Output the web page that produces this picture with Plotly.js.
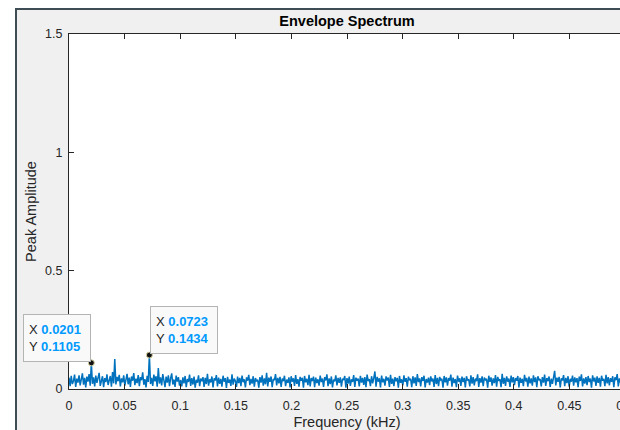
<!DOCTYPE html>
<html>
<head>
<meta charset="utf-8">
<script src="https://cdn.plot.ly/plotly-3.0.1.min.js"></script>
<style>
  html, body { margin: 0; padding: 0; background: #ffffff; overflow: hidden; width: 620px; height: 430px; }
  #frame { position: absolute; left: 15px; top: 8px; border-left: 2px solid #3e4c56; border-top: 2px solid #3e4c56; background: #f0f0f0; width: 640px; height: 440px; }
  #chart { position: absolute; left: 0; top: 0; }
</style>
</head>
<body>
<div id="frame"><div id="chart"></div></div>
<script>
// Frequency bin spacing (kHz) of the envelope spectrum
const freqStep = 0.001004;

// Peak amplitude per frequency bin
const amplitude = [
  0.048, 0.012, 0.056, 0.021, 0.034, 0.061, 0.009, 0.044, 0.027, 0.058, 0.015, 0.039, 0.066, 0.018, 0.047, 0.007, 0.052, 0.031, 0.063, 0.014, 0.1105, 0.022, 0.049, 0.011, 0.057,
  0.026, 0.043, 0.068, 0.013, 0.038, 0.054, 0.008, 0.046, 0.029, 0.062, 0.017, 0.041, 0.055, 0.010, 0.072, 0.024, 0.127, 0.019, 0.051, 0.033, 0.060, 0.011, 0.045, 0.028, 0.058,
  0.014, 0.040, 0.064, 0.020, 0.048, 0.009, 0.053, 0.035, 0.067, 0.016, 0.044, 0.025, 0.059, 0.012, 0.050, 0.037, 0.070, 0.018, 0.042, 0.007, 0.056, 0.030, 0.1434, 0.021, 0.047,
  0.013, 0.061, 0.032, 0.054, 0.010, 0.088, 0.023, 0.049, 0.015, 0.063, 0.036, 0.008, 0.052, 0.027, 0.058, 0.012, 0.045, 0.066, 0.019, 0.040, 0.009, 0.057, 0.031, 0.050, 0.014,
  0.038, 0.011, 0.049, 0.024, 0.055, 0.008, 0.042, 0.030, 0.061, 0.013, 0.046, 0.019, 0.052, 0.006, 0.039, 0.027, 0.058, 0.012, 0.044, 0.033, 0.050, 0.009, 0.047, 0.021, 0.064,
  0.014, 0.041, 0.028, 0.053, 0.007, 0.045, 0.036, 0.059, 0.011, 0.048, 0.022, 0.043, 0.010, 0.056, 0.031, 0.046, 0.005, 0.051, 0.026, 0.040, 0.013, 0.062, 0.018, 0.044, 0.034,
  0.009, 0.052, 0.025, 0.047, 0.012, 0.057, 0.029, 0.041, 0.007, 0.049, 0.035, 0.060, 0.016, 0.043, 0.023, 0.054, 0.010, 0.046, 0.032, 0.039, 0.006, 0.050, 0.027, 0.058, 0.014,
  0.045, 0.020, 0.068, 0.011, 0.048, 0.030, 0.053, 0.008, 0.042, 0.037, 0.063, 0.015, 0.047, 0.024, 0.051, 0.009, 0.044, 0.033, 0.056, 0.012, 0.040, 0.026, 0.049, 0.007, 0.054,
  0.031, 0.045, 0.013, 0.059, 0.022, 0.042, 0.010, 0.051, 0.035, 0.047, 0.006, 0.055, 0.028, 0.043, 0.016, 0.060, 0.011, 0.046, 0.034, 0.052, 0.008, 0.048, 0.025, 0.041, 0.014,
  0.057, 0.029, 0.044, 0.009, 0.050, 0.036, 0.062, 0.012, 0.045, 0.021, 0.053, 0.007, 0.040, 0.032, 0.058, 0.015, 0.047, 0.026, 0.049, 0.010, 0.043, 0.038, 0.055, 0.006, 0.046,
  0.023, 0.052, 0.013, 0.041, 0.030, 0.059, 0.009, 0.048, 0.035, 0.044, 0.011, 0.056, 0.027, 0.047, 0.017, 0.050, 0.008, 0.061, 0.033, 0.042, 0.012, 0.054, 0.024, 0.046, 0.074,
  0.010, 0.051, 0.031, 0.045, 0.007, 0.057, 0.028, 0.043, 0.014, 0.053, 0.036, 0.048, 0.009, 0.060, 0.022, 0.044, 0.012, 0.050, 0.033, 0.047, 0.006, 0.055, 0.026, 0.041, 0.015,
  0.058, 0.030, 0.046, 0.010, 0.052, 0.037, 0.043, 0.008, 0.054, 0.024, 0.049, 0.013, 0.063, 0.029, 0.045, 0.011, 0.050, 0.034, 0.056, 0.007, 0.042, 0.027, 0.048, 0.016, 0.053,
  0.032, 0.044, 0.009, 0.059, 0.021, 0.047, 0.012, 0.051, 0.038, 0.043, 0.006, 0.055, 0.028, 0.049, 0.014, 0.046, 0.035, 0.061, 0.010, 0.048, 0.025, 0.042, 0.008, 0.057, 0.031,
  0.045, 0.013, 0.052, 0.029, 0.047, 0.007, 0.054, 0.036, 0.041, 0.011, 0.058, 0.023, 0.050, 0.015, 0.044, 0.033, 0.062, 0.009, 0.046, 0.027, 0.053, 0.012, 0.048, 0.038, 0.043,
  0.006, 0.056, 0.030, 0.049, 0.014, 0.045, 0.025, 0.059, 0.010, 0.051, 0.034, 0.042, 0.008, 0.064, 0.022, 0.047, 0.013, 0.053, 0.031, 0.044, 0.009, 0.057, 0.028, 0.050, 0.016,
  0.046, 0.035, 0.055, 0.007, 0.048, 0.026, 0.043, 0.012, 0.060, 0.032, 0.047, 0.010, 0.052, 0.024, 0.045, 0.014, 0.058, 0.029, 0.049, 0.008, 0.054, 0.037, 0.042, 0.011, 0.050,
  0.027, 0.061, 0.013, 0.046, 0.033, 0.053, 0.009, 0.044, 0.022, 0.056, 0.077, 0.015, 0.048, 0.030, 0.051, 0.007, 0.045, 0.036, 0.059, 0.012, 0.047, 0.025, 0.054, 0.010, 0.043,
  0.031, 0.057, 0.014, 0.049, 0.028, 0.046, 0.008, 0.052, 0.034, 0.062, 0.011, 0.045, 0.023, 0.050, 0.016, 0.055, 0.029, 0.044, 0.006, 0.058, 0.032, 0.048, 0.013, 0.053, 0.026,
  0.047, 0.010, 0.056, 0.035, 0.043, 0.012, 0.060, 0.024, 0.050, 0.015, 0.046, 0.030, 0.054, 0.008, 0.049, 0.037, 0.063, 0.011, 0.045, 0.027, 0.052, 0.014, 0.058, 0.021, 0.048
];

// Data tips (indices of the marked bins)
const tipIndices = [20, 72];

// Axis ticks
const xTicks = [0, 0.05, 0.1, 0.15, 0.2, 0.25, 0.3, 0.35, 0.4, 0.45, 0.5];
const xTickText = ['0', '0.05', '0.1', '0.15', '0.2', '0.25', '0.3', '0.35', '0.4', '0.45', '0.5'];
const yTicks = [0, 0.5, 1, 1.5];
const yTickText = ['0', '0.5', '1', '1.5'];

const frequency = amplitude.map((_, i) => i * freqStep);
const tipX = tipIndices.map(i => frequency[i]);
const tipY = tipIndices.map(i => amplitude[i]);

const axisColor = '#262626';
const font = 'Liberation Sans, Arial, Helvetica, sans-serif';

const traces = [
  {
    x: frequency, y: amplitude, type: 'scatter', mode: 'lines',
    line: { color: '#0072BD', width: 1.5 }, hoverinfo: 'skip', showlegend: false
  },
  {
    x: tipX, y: tipY, type: 'scatter', mode: 'markers', cliponaxis: false,
    marker: { color: '#111111', size: 6, line: { color: '#d8d2a0', width: 1 } },
    hoverinfo: 'skip', showlegend: false
  }
];

const tipColor = '#0099FF';
const annotations = tipIndices.map((idx, k) => ({
  x: frequency[idx], y: amplitude[idx], xref: 'x', yref: 'y',
  showarrow: false,
  xanchor: k === 0 ? 'right' : 'left',
  yanchor: 'bottom',
  xshift: k === 0 ? 0 : 1,
  yshift: 1,
  align: 'left',
  text: 'X <b><span style="color:' + tipColor + '">' + frequency[idx].toFixed(4) + '</span></b><br>' +
        'Y <b><span style="color:' + tipColor + '">' + amplitude[idx].toFixed(4) + '</span></b>',
  font: { family: font, size: 13, color: '#262626' },
  bgcolor: '#f9f9f9',
  bordercolor: '#b4b4b4',
  borderwidth: 1,
  borderpad: 5,
  width: 56,
  height: 36
}));

const layout = {
  width: 618, height: 420,
  margin: { l: 52, r: 10, t: 24, b: 41, pad: 0 },
  paper_bgcolor: '#f0f0f0',
  plot_bgcolor: '#ffffff',
  font: { family: font, size: 12.5, color: axisColor },
  title: {
    text: '<b>Envelope Spectrum</b>',
    font: { family: font, size: 14.5, color: '#000000' },
    x: 0.5, xref: 'paper', xanchor: 'center',
    y: 1 - 11 / 420, yref: 'container', yanchor: 'middle'
  },
  xaxis: {
    range: [0, 0.5],
    tickvals: xTicks, ticktext: xTickText,
    ticks: 'inside', ticklen: 5, tickwidth: 1, tickcolor: axisColor,
    showline: true, linecolor: axisColor, linewidth: 1, mirror: 'ticks',
    showgrid: false, zeroline: false,
    ticklabelstandoff: 5,
    tickfont: { family: font, size: 12.5, color: axisColor },
    title: { text: 'Frequency (kHz)', font: { family: font, size: 14.5, color: axisColor }, standoff: 7 },
    automargin: false
  },
  yaxis: {
    range: [0, 1.5],
    tickvals: yTicks, ticktext: yTickText,
    ticks: 'inside', ticklen: 5, tickwidth: 1, tickcolor: axisColor,
    showline: true, linecolor: axisColor, linewidth: 1, mirror: 'ticks',
    showgrid: false, zeroline: false,
    ticklabelstandoff: 3,
    tickfont: { family: font, size: 12.5, color: axisColor },
    title: { text: 'Peak Amplitude', font: { family: font, size: 14.5, color: axisColor }, standoff: 5 },
    automargin: false
  },
  annotations: annotations
};

Plotly.newPlot('chart', traces, layout, { displayModeBar: false, staticPlot: true });
</script>
</body>
</html>
